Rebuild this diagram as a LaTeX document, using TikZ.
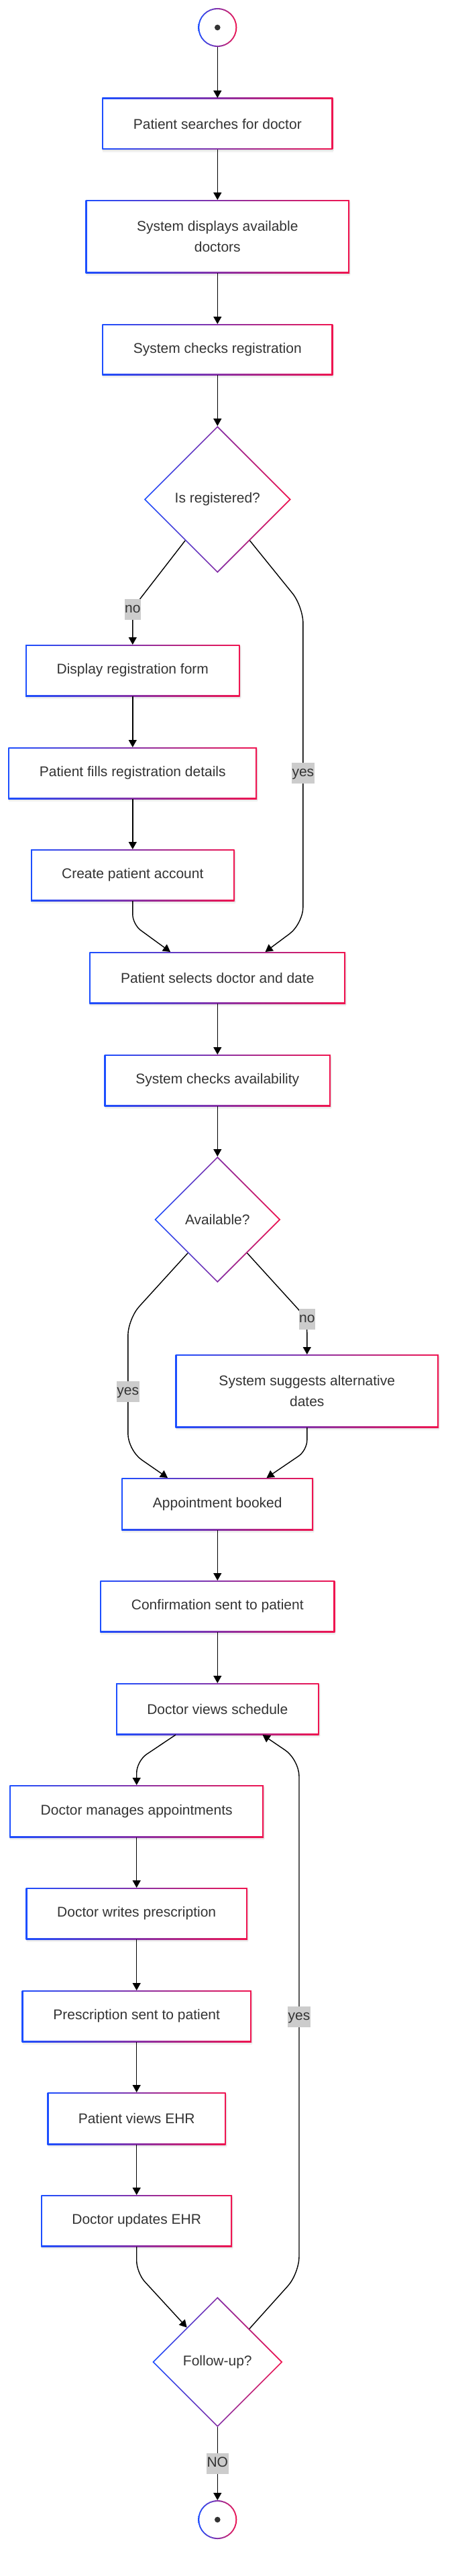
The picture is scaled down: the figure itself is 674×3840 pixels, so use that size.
\documentclass[tikz,border=0pt]{standalone}
\usepackage{fontspec}
\setmainfont{Liberation Sans}
\usetikzlibrary{arrows.meta,shapes.geometric,calc}
\pgfdeclarelayer{bgzero}
\pgfdeclarelayer{bgone}
\pgfsetlayers{bgzero,bgone,main}
\definecolor{gblue}{RGB}{28,78,255}
\definecolor{gred}{RGB}{240,20,80}
\definecolor{txt}{RGB}{51,51,51}
\definecolor{lblgray}{RGB}{204,204,204}
\newcommand{\gradrect}[1]{%
 \begin{pgfonlayer}{bgzero}
   \fill[black,opacity=0.05] ([xshift=1pt,yshift=-4pt]#1.south west) rectangle ([xshift=1pt,yshift=-4pt]#1.north east);
   \fill[black,opacity=0.05] ([xshift=0pt,yshift=-2pt]#1.south west) rectangle ([xshift=2pt,yshift=-2pt]#1.north east);
 \end{pgfonlayer}
 \begin{pgfonlayer}{bgone}
   \shade[left color=gblue,right color=gred] (#1.south west) rectangle (#1.north east);
   \fill[white] ([xshift=2pt,yshift=2pt]#1.south west) rectangle ([xshift=-2pt,yshift=-2pt]#1.north east);
 \end{pgfonlayer}}
\newcommand{\graddia}[1]{%
 \begin{pgfonlayer}{bgone}
  \shade[left color=gblue,right color=gred] (#1.north) -- (#1.east) -- (#1.south) -- (#1.west) -- cycle;
  \fill[white] ([yshift=-2.6pt]#1.north) -- ([xshift=-2.6pt]#1.east) -- ([yshift=2.6pt]#1.south) -- ([xshift=2.6pt]#1.west) -- cycle;
 \end{pgfonlayer}}
\newcommand{\gradcirc}[1]{%
 \begin{pgfonlayer}{bgone}
  \shade[left color=gblue,right color=gred] (#1.center) circle[radius=29pt];
  \fill[white] (#1.center) circle[radius=27pt];
 \end{pgfonlayer}
 \fill[txt] (#1.center) circle[radius=4.3pt];}
\tikzset{
 every node/.style={font=\fontsize{21}{31}\selectfont, text=txt},
 box/.style={rectangle, draw=none, outer sep=0pt, inner sep=0pt, align=center},
 dia/.style={diamond, draw=none, outer sep=0pt, inner sep=0pt, aspect=1},
 term/.style={circle, draw=none, outer sep=0pt, inner sep=0pt, minimum size=58pt},
 lbl/.style={fill=lblgray, inner xsep=0.5pt, inner ysep=5.5pt, text height=15.5pt, text depth=4.5pt},
 flow/.style={draw=black, line width=1.4pt, -{Triangle[length=11pt,width=12pt]}},
}
\begin{document}
\begin{tikzpicture}[x=1pt,y=-1pt]
\useasboundingbox (0,0) rectangle (674,3840);
\begin{pgfonlayer}{bgzero}
\fill[white] (0,0) rectangle (674,3840);
\end{pgfonlayer}

% nodes
\node[term] (s) at (324.3,41) {};
\node[box, minimum width=344pt, minimum height=77pt] (b1) at (324.3,184.5) {Patient searches for doctor};
\node[box, minimum width=393.5pt, minimum height=109pt] (b2) at (324.3,352.5) {System displays available\\doctors};
\node[box, minimum width=344pt, minimum height=76pt] (b3) at (324.3,521) {System checks registration};
\node[dia, minimum width=219pt, minimum height=219pt] (d1) at (324.3,744.5) {Is registered?};
\node[box, minimum width=319.4pt, minimum height=77pt] (b4) at (197.8,999.5) {Display registration form};
\node[box, minimum width=370.8pt, minimum height=77pt] (b5) at (197.8,1152.5) {Patient fills registration details};
\node[box, minimum width=303.6pt, minimum height=77pt] (b6) at (197.8,1304.5) {Create patient account};
\node[box, minimum width=381.7pt, minimum height=77pt] (b7) at (324.3,1457.5) {Patient selects doctor and date};
\node[box, minimum width=337.2pt, minimum height=77pt] (b8) at (324.3,1610.5) {System checks availability};
\node[dia, minimum width=188pt, minimum height=188pt] (d2) at (324.3,1818) {Available?};
\node[box, minimum width=392.6pt, minimum height=109pt] (b9) at (457.8,2073.5) {System suggests alternative\\dates};
\node[box, minimum width=285.8pt, minimum height=78pt] (b10) at (324.3,2242) {Appointment booked};
\node[box, minimum width=350pt, minimum height=77pt] (b11) at (324.3,2394.5) {Confirmation sent to patient};
\node[box, minimum width=302.6pt, minimum height=77pt] (b12) at (324.3,2547.5) {Doctor views schedule};
\node[box, minimum width=378.7pt, minimum height=78pt] (b13) at (203.7,2700) {Doctor manages appointments};
\node[box, minimum width=330.3pt, minimum height=77pt] (b14) at (203.7,2852.5) {Doctor writes prescription};
\node[box, minimum width=342.1pt, minimum height=77pt] (b15) at (203.7,3005.5) {Prescription sent to patient};
\node[box, minimum width=266pt, minimum height=78pt] (b16) at (203.7,3158) {Patient views EHR};
\node[box, minimum width=284.8pt, minimum height=77pt] (b17) at (203.7,3310.5) {Doctor updates EHR};
\node[dia, minimum width=194pt, minimum height=194pt] (d3) at (324.3,3521) {Follow-up?};
\node[term] (e) at (324.3,3756) {};

% gradient borders
\gradcirc{s}
\gradcirc{e}
\foreach \n in {b1,b2,b3,b4,b5,b6,b7,b8,b9,b10,b11,b12,b13,b14,b15,b16,b17}{\gradrect{\n}}
\graddia{d1}
\graddia{d2}
\graddia{d3}

% connectors
\draw[flow] (s) -- (b1);
\draw[flow] (b1) -- (b2);
\draw[flow] (b2) -- (b3);
\draw[flow] (b3) -- (d1);
\draw[flow, rounded corners=18pt] ($(d1.west)!0.56!(d1.south)$) coordinate (d1no) -- (197.8,907) -- (b4.north);
\draw[flow, rounded corners=25pt] ($(d1.east)!0.56!(d1.south)$) coordinate (d1yes) -- (451.9,904) -- (451.9,1377) -- ([xshift=71.2pt]b7.north);
\draw[flow] (b4) -- (b5);
\draw[flow] (b5) -- (b6);
\draw[flow, rounded corners=15pt] (b6.south) -- (197.8,1378) -- ([xshift=-70.2pt]b7.north);
\draw[flow] (b7) -- (b8);
\draw[flow] (b8) -- (d2);
\draw[flow, rounded corners=25pt] ($(d2.west)!0.53!(d2.south)$) coordinate (d2yes) -- (190.8,1966) -- (190.8,2162) -- ([xshift=-74.2pt]b10.north);
\draw[flow, rounded corners=20pt] ($(d2.east)!0.53!(d2.south)$) coordinate (d2no) -- (457.8,1966) -- (b9.north);
\draw[flow, rounded corners=15pt] (b9.south) -- (457.8,2162) -- ([xshift=73.2pt]b10.north);
\draw[flow] (b10) -- (b11);
\draw[flow] (b11) -- (b12);
\draw[flow, rounded corners=18pt] ([xshift=-62.3pt]b12.south) -- (203.7,2625) -- (b13.north);
\draw[flow] (b13) -- (b14);
\draw[flow] (b14) -- (b15);
\draw[flow] (b15) -- (b16);
\draw[flow] (b16) -- (b17);
\draw[flow, rounded corners=18pt] (b17.south) -- (203.7,3388) -- ($(d3.west)!0.53!(d3.north)$);
\draw[flow, rounded corners=25pt] ($(d3.east)!0.51!(d3.north)$) coordinate (d3yes) -- (446,3389) -- (446,2623) -- ([xshift=67.2pt]b12.south);
\draw[flow] (d3) -- (e);

% edge labels
\node[lbl] (l1) at (197.8,908) {no};
\node[lbl] (l2) at (451.9,1152) {yes};
\node[lbl] (l3) at (190.8,2074) {yes};
\node[lbl] (l4) at (457.8,1966) {no};
\node[lbl] (l5) at (446,3006) {yes};
\node[lbl] (l6) at (324.3,3672) {NO};
\end{tikzpicture}
\end{document}
